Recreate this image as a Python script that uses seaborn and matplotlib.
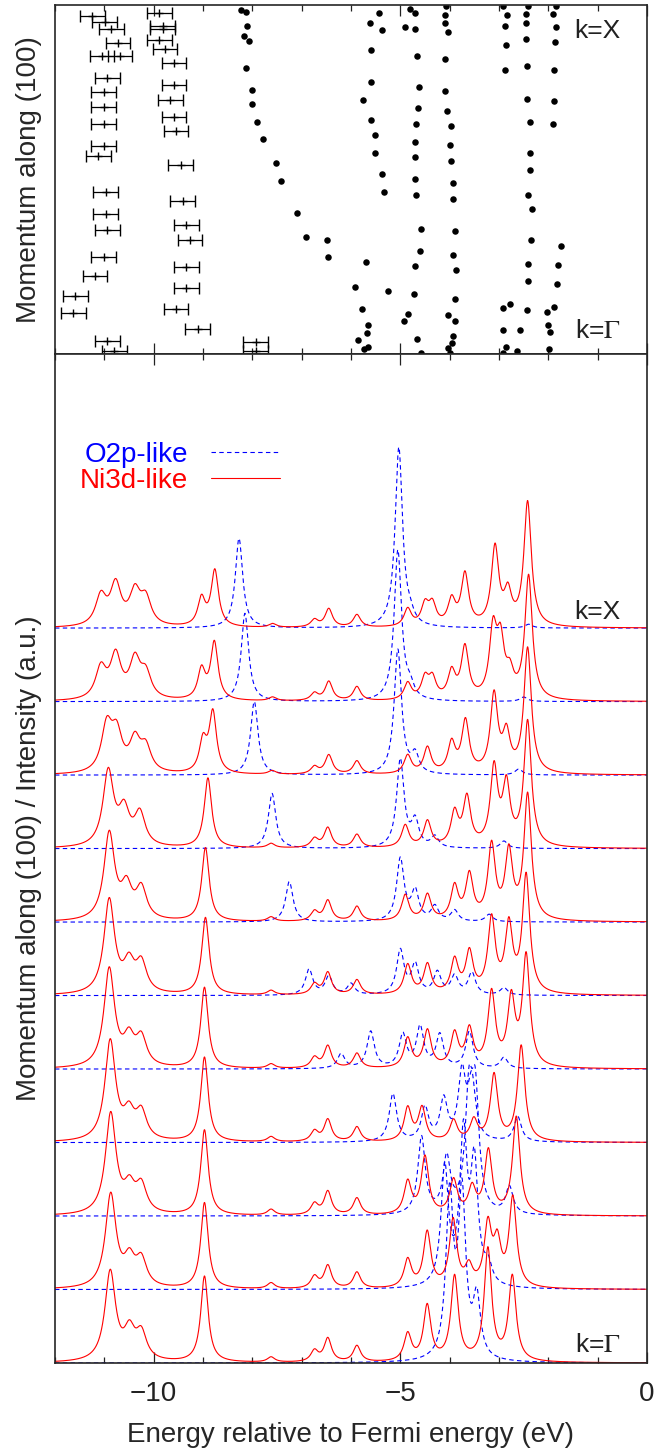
import numpy as np
import pandas as pd
import matplotlib
matplotlib.use("Agg")
import matplotlib.pyplot as plt
from matplotlib.ticker import MultipleLocator
import seaborn as sns

# ---------------- top panel: band positions (E in eV, k: 0 = Gamma, 1 = X)
# measured points with error bars
err_e = [-11.24, -10.99, -10.86, -10.72, -11.05, -10.68, -10.94, -11.01, -11.01, -11.01,
         -11.01, -11.12, -10.97, -10.97, -10.94, -11.01, -11.19, -11.59, -11.63, -10.94,
         -10.80,
         -9.885, -9.82, -9.82, -9.885, -9.77, -9.59, -9.59, -9.66, -9.59, -9.55,
         -9.45, -9.41, -9.34, -9.26, -9.34, -9.34, -9.55, -9.11,
         -7.93, -7.93]
err_k = [0.968, 0.951, 0.931, 0.891, 0.854, 0.854, 0.791, 0.751, 0.708, 0.659,
         0.596, 0.567, 0.464, 0.401, 0.355, 0.278, 0.223, 0.166, 0.117, 0.037,
         0.009,
         0.977, 0.940, 0.931, 0.900, 0.874, 0.834, 0.771, 0.728, 0.679, 0.639,
         0.542, 0.438, 0.370, 0.327, 0.249, 0.189, 0.129, 0.072,
         0.034, 0.009]
err_half = 0.25

# calculated peak positions (dots)
dot_e = [-8.22, -8.12, -8.10, -8.17, -8.07, -8.12, -8.00, -8.00, -7.90, -7.79, -7.53, -7.41,
         -7.10, -6.91, -6.48, -6.47, -5.70, -5.91, -5.24, -5.77, -5.66, -5.68, -5.85, -5.66, -5.73,
         -5.44, -5.61, -5.37, -5.59, -5.60, -5.76, -5.60, -5.51, -5.51, -5.38, -5.34,
         -4.80, -4.70, -4.91, -4.70, -4.67, -4.63, -4.65, -4.68, -4.70, -4.70, -4.70, -4.68,
         -4.59, -4.61, -4.70, -4.72, -4.85, -4.92, -4.67, -4.59,
         -4.07, -4.09, -4.09, -4.04, -4.09, -4.09, -4.06, -3.97, -3.99, -3.97, -3.925, -3.925,
         -3.89, -3.925, -3.87, -3.90, -4.04, -3.89, -3.925, -3.945, -4.04, -3.99,
         -2.925, -2.844, -2.88, -2.86, -2.88, -2.78, -2.925, -2.91, -2.57, -2.86, -2.64, -2.91,
         -2.405, -2.45, -2.45, -2.45, -2.44, -2.425, -2.37, -2.37, -2.37, -2.405, -2.34, -2.36,
         -2.405, -2.405, -2.425,
         -1.85, -1.91, -1.84, -1.87, -1.885, -1.885, -1.91, -1.75, -1.80, -1.83, -1.885, -2.03,
         -2.005, -1.965, -1.985]
dot_k = [0.986, 0.980, 0.940, 0.911, 0.897, 0.819, 0.756, 0.716, 0.665, 0.616, 0.547, 0.496,
         0.404, 0.335, 0.327, 0.278, 0.264, 0.192, 0.181, 0.129, 0.083, 0.060, 0.040, 0.020, 0.014,
         0.977, 0.948, 0.928, 0.871, 0.779, 0.728, 0.670, 0.628, 0.576, 0.516, 0.464,
         0.989, 0.977, 0.937, 0.931, 0.854, 0.765, 0.705, 0.659, 0.607, 0.564, 0.501, 0.456,
         0.358, 0.295, 0.252, 0.172, 0.115, 0.095, 0.043, 0.003,
         0.997, 0.971, 0.948, 0.923, 0.845, 0.754, 0.696, 0.653, 0.599, 0.553, 0.490, 0.444,
         0.352, 0.284, 0.241, 0.158, 0.112, 0.095, 0.052, 0.032, 0.017, 0.003,
         0.997, 0.971, 0.940, 0.885, 0.814, 0.143, 0.132, 0.069, 0.069, 0.020, 0.009, 0.003,
         0.997, 0.974, 0.948, 0.903, 0.825, 0.731, 0.665, 0.576, 0.527, 0.456, 0.415, 0.327,
         0.258, 0.209, 0.126,
         0.997, 0.974, 0.937, 0.894, 0.814, 0.725, 0.659, 0.309, 0.255, 0.201, 0.135, 0.120,
         0.083, 0.063, 0.014]

# ---------------- bottom panel: spectral peaks for each k (index 0 = Gamma ... 10 = X)
ni_centres = [
    [-10.88, -10.49, -10.25, -8.97, -7.62, -6.74, -6.47, -5.88, -4.85, -4.455, -3.90, -3.225, -2.73],
    [-10.87, -10.49, -10.25, -8.97, -7.62, -6.74, -6.47, -5.88, -4.85, -4.455, -3.93, -3.61, -3.225, -3.035, -2.72],
    [-10.87, -10.49, -10.25, -8.97, -7.62, -6.74, -6.47, -5.88, -4.85, -4.50, -3.92, -3.545, -3.215, -2.65],
    [-10.88, -10.5, -10.25, -8.97, -7.62, -6.74, -6.47, -5.88, -4.85, -4.56, -3.92, -3.51, -3.1, -2.55],
    [-10.9, -10.5, -10.25, -8.97, -7.62, -6.74, -6.47, -5.88, -4.85, -4.45, -3.9, -3.6, -3.15, -2.75, -2.45],
    [-10.9, -10.5, -10.25, -8.95, -7.62, -6.74, -6.47, -5.88, -4.85, -4.45, -3.9, -3.6, -3.15, -2.8, -2.45],
    [-10.9, -10.55, -10.25, -8.95, -7.62, -6.74, -6.47, -5.88, -4.9, -4.45, -3.9, -3.6, -3.15, -2.8, -2.42],
    [-10.92, -10.6, -10.28, -8.9, -7.62, -6.74, -6.47, -5.88, -4.9, -4.45, -3.9, -3.65, -3.1, -2.85, -2.42],
    [-10.95, -10.75, -10.38, -10.16, -9.0, -8.8, -7.6, -6.74, -6.45, -5.88, -4.85, -4.45, -3.96, -3.68, -3.1, -2.85, -2.42],
    [-11.07, -10.77, -10.38, -10.16, -9.03, -8.77, -7.59, -6.74, -6.45, -5.88, -4.85, -4.5, -4.35, -3.96, -3.69, -3.12, -2.97, -2.78, -2.4],
    [-11.07, -10.77, -10.38, -10.16, -9.03, -8.76, -7.59, -6.74, -6.45, -5.88, -4.85, -4.5, -4.35, -3.96, -3.69, -3.08, -2.82, -2.42],
]
ni_heights = [
    [1.22, 0.38, 0.36, 1.17, 0.07, 0.15, 0.32, 0.22, 0.37, 0.75, 1.15, 1.52, 1.15],
    [1.27, 0.35, 0.36, 1.17, 0.08, 0.16, 0.31, 0.22, 0.38, 0.75, 0.91, 0.26, 0.82, 0.56, 1.21],
    [1.37, 0.33, 0.37, 1.16, 0.08, 0.15, 0.32, 0.23, 0.44, 0.78, 0.46, 0.35, 0.86, 1.33],
    [1.36, 0.34, 0.37, 1.15, 0.07, 0.14, 0.3, 0.2, 0.45, 0.45, 0.28, 0.28, 0.9, 1.3],
    [1.34, 0.36, 0.38, 1.1, 0.06, 0.14, 0.3, 0.2, 0.4, 0.5, 0.45, 0.5, 1.0, 0.9, 1.5],
    [1.28, 0.38, 0.4, 1.05, 0.06, 0.14, 0.3, 0.2, 0.4, 0.4, 0.45, 0.55, 1.0, 0.9, 1.6],
    [1.18, 0.42, 0.42, 1.0, 0.06, 0.13, 0.28, 0.2, 0.35, 0.35, 0.45, 0.6, 1.0, 0.9, 1.7],
    [1.02, 0.46, 0.44, 0.95, 0.06, 0.12, 0.27, 0.18, 0.3, 0.35, 0.45, 0.65, 1.05, 0.8, 1.7],
    [0.62, 0.5, 0.42, 0.33, 0.42, 0.82, 0.05, 0.1, 0.26, 0.18, 0.25, 0.35, 0.4, 0.7, 1.05, 0.5, 1.7],
    [0.42, 0.58, 0.51, 0.33, 0.40, 0.78, 0.05, 0.1, 0.26, 0.19, 0.23, 0.28, 0.27, 0.36, 0.70, 0.9, 0.72, 0.3, 1.68],
    [0.40, 0.55, 0.44, 0.355, 0.37, 0.76, 0.05, 0.1, 0.25, 0.17, 0.24, 0.28, 0.28, 0.34, 0.70, 1.06, 0.42, 1.69],
]
o2p_centres = [
    [-4.0, -3.75, -3.45],
    [-4.1, -3.72, -3.5, -3.22],
    [-4.57, -4.06, -3.61, -3.48, -2.79],
    [-5.15, -4.5, -4.12, -3.75, -3.55, -2.62],
    [-6.2, -5.6, -4.95, -4.6, -4.2, -3.6, -2.9],
    [-6.85, -6.45, -6.0, -5.0, -4.7, -4.25, -3.9, -3.55, -2.9],
    [-7.25, -5.0, -4.7, -4.3, -3.9, -3.2],
    [-7.6, -5.0, -4.7, -4.3, -2.9],
    [-7.96, -5.05, -4.7, -2.6],
    [-8.15, -5.05, -4.8, -2.5],
    [-8.27, -5.03, -4.8, -2.4],
]
o2p_heights = [
    [2.2, 2.2, 0.8],
    [1.6, 2.0, 1.6, 0.25],
    [1.05, 0.74, 1.5, 1.5, 0.37],
    [0.65, 0.45, 0.55, 0.9, 0.8, 0.34],
    [0.2, 0.5, 0.45, 0.55, 0.45, 0.5, 0.15],
    [0.35, 0.25, 0.15, 0.6, 0.4, 0.3, 0.25, 0.3, 0.1],
    [0.55, 0.85, 0.4, 0.2, 0.15, 0.1],
    [0.75, 1.2, 0.35, 0.15, 0.1],
    [1.0, 1.7, 0.25, 0.08],
    [1.2, 2.05, 0.15, 0.06],
    [1.22, 2.45, 0.1, 0.05],
]

energy = np.linspace(-12, 0, 2401)


def spectrum(centres, heights):
    out = np.zeros_like(energy)
    for c, h in zip(centres, heights):
        w = 0.13 if c < -10 else 0.09
        out += h * w ** 2 / ((energy - c) ** 2 + w ** 2)
    return out


rows = []
for k in range(len(ni_centres)):
    for name, cen, hei in (("O2p-like", o2p_centres, o2p_heights),
                           ("Ni3d-like", ni_centres, ni_heights)):
        rows.append(pd.DataFrame({"energy": energy,
                                  "intensity": k + spectrum(cen[k], hei[k]),
                                  "orbital": name, "k": k}))
spec = pd.concat(rows, ignore_index=True)

# ---------------- figure
sns.set_style("ticks")
plt.rcParams["font.family"] = ["Liberation Sans", "DejaVu Sans"]
plt.rcParams["mathtext.fontset"] = "stix"

fig = plt.figure(figsize=(6.69, 14.48), dpi=100)
ax1 = fig.add_axes([0.0822, 0.7555, 0.8849, 0.2410])
ax2 = fig.add_axes([0.0822, 0.0587, 0.8849, 0.6968])

ax1.errorbar(err_e, err_k, xerr=err_half, fmt="+", color="black", ms=5.5, mew=1.0,
             elinewidth=0.9, capsize=4, capthick=0.9)
sns.scatterplot(x=dot_e, y=dot_k, ax=ax1, color="black", s=22, linewidth=0)
ax1.set_ylim(0, 1)
ax1.set_ylabel("Momentum along (100)", fontsize=20)
ax1.text(-1.0, 0.925, "k=X", fontsize=19, ha="center", va="center", color="#222222")
ax1.text(-1.0, 0.066, r"k=$\Gamma$", fontsize=19, ha="center", va="center", color="#222222")

sns.lineplot(data=spec, x="energy", y="intensity", hue="orbital", style="orbital",
             units="k", estimator=None, sort=False, ax=ax2,
             hue_order=["O2p-like", "Ni3d-like"], style_order=["O2p-like", "Ni3d-like"],
             palette={"O2p-like": "blue", "Ni3d-like": "red"},
             dashes={"O2p-like": (4, 3), "Ni3d-like": ""}, linewidth=0.8)
ax2.set_ylim(0, 13.73)
ax2.set_xlabel("Energy relative to Fermi energy (eV)", fontsize=20, labelpad=11)
ax2.set_ylabel("Momentum along (100) / Intensity (a.u.)", fontsize=20)
ax2.text(-1.0, 10.22, "k=X", fontsize=19, ha="center", va="center", color="#222222")
ax2.text(-1.0, 0.25, r"k=$\Gamma$", fontsize=19, ha="center", va="center", color="#222222")
leg = ax2.legend(loc="upper left", bbox_to_anchor=(0.005, 0.935), frameon=False,
                 markerfirst=False, labelcolor="linecolor", fontsize=20,
                 handlelength=2.5, handletextpad=0.8, labelspacing=0.0, borderpad=0.3)

for ax in (ax1, ax2):
    ax.set_xlim(-12, 0)
    ax.xaxis.set_major_locator(MultipleLocator(5))
    ax.xaxis.set_minor_locator(MultipleLocator(1))
    ax.set_yticks([])
    ax.tick_params(axis="x", which="both", direction="in", top=True, bottom=True,
                   width=0.9, labelsize=20, colors="#222222", pad=13)
    ax.tick_params(axis="x", which="major", length=8)
    ax.tick_params(axis="x", which="minor", length=4.5)
    for sp in ax.spines.values():
        sp.set_linewidth(1.2)
ax1.tick_params(axis="x", labelbottom=False)
ax1.yaxis.set_label_coords(-0.022, 0.5)
ax2.yaxis.set_label_coords(-0.022, 0.5)

fig.savefig("out.png", dpi=100)
